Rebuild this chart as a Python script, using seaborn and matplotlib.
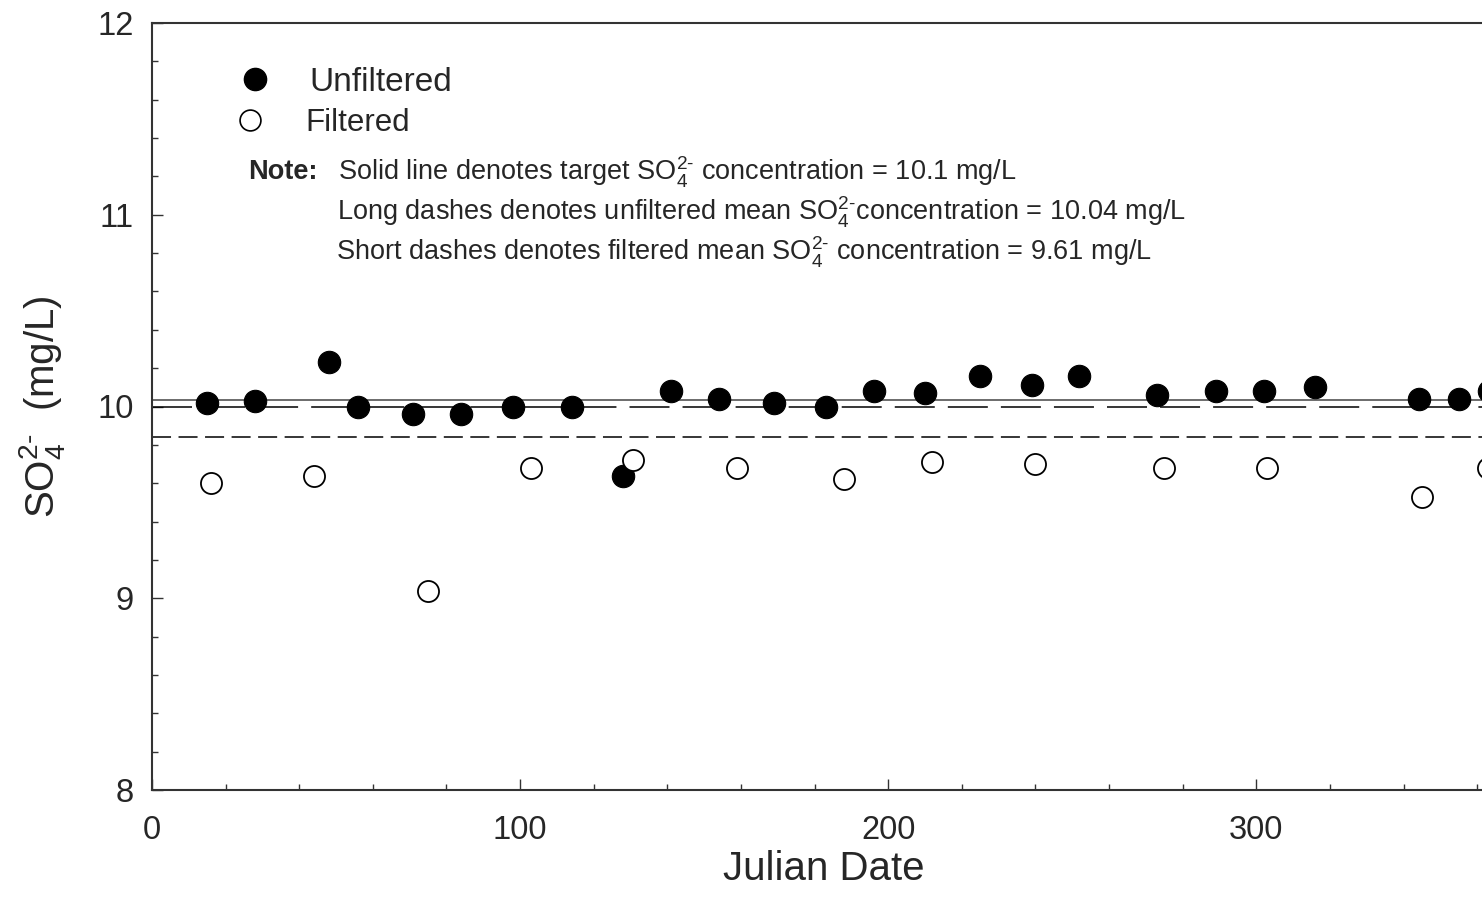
import matplotlib
matplotlib.use("Agg")
import matplotlib.pyplot as plt
import seaborn as sns
import pandas as pd
from matplotlib.ticker import MultipleLocator

# values
unfiltered_day = [15.0, 27.9, 48.1, 56.0, 71.0, 83.9, 98.0, 114.0, 128.0,
                  141.0, 154.0, 169.0, 183.0, 196.0, 210.0, 224.9, 239.0,
                  251.9, 273.0, 289.0, 302.0, 316.0, 344.1, 355.1, 363.2]
unfiltered_so4 = [10.02, 10.03, 10.23, 10.00, 9.96, 9.96, 10.00, 10.00, 9.64,
                  10.08, 10.04, 10.02, 10.00, 10.08, 10.07, 10.16, 10.11,
                  10.16, 10.06, 10.08, 10.08, 10.10, 10.04, 10.04, 10.08]

filtered_day = [15.9, 43.9, 75.1, 103.0, 130.8, 158.9, 187.9, 211.9, 239.9,
                274.9, 302.9, 345.0, 362.9]
filtered_so4 = [9.60, 9.64, 9.04, 9.68, 9.72, 9.68, 9.62, 9.71, 9.70,
                9.68, 9.68, 9.53, 9.68]

target_level = 10.035
unfiltered_mean_level = 10.0
filtered_mean_level = 9.84

note_lines = [
    r"Solid line denotes target SO$_4^{2\text{-}}$ concentration = 10.1 mg/L",
    r"Long dashes denotes unfiltered mean SO$_4^{2\text{-}}$concentration = 10.04 mg/L",
    r"Short dashes denotes filtered mean SO$_4^{2\text{-}}$ concentration = 9.61 mg/L",
]

sns.set_style("ticks")
plt.rcParams["font.family"] = ["Liberation Sans", "DejaVu Sans"]
plt.rcParams["mathtext.fontset"] = "custom"
plt.rcParams["mathtext.rm"] = "Liberation Sans"
plt.rcParams["mathtext.it"] = "Liberation Sans:italic"
plt.rcParams["mathtext.bf"] = "Liberation Sans:bold"
plt.rcParams["lines.scale_dashes"] = False

unfiltered = pd.DataFrame({"day": unfiltered_day, "so4": unfiltered_so4})
filtered = pd.DataFrame({"day": filtered_day, "so4": filtered_so4})

fig = plt.figure(figsize=(14.82, 9.11), dpi=100)
ax = fig.add_axes([152 / 1482, 1 - 790 / 911, 1330 / 1482, 767 / 911])

# reference lines
ax.axhline(target_level, color="#444444", lw=1.1, zorder=1)
ax.axhline(unfiltered_mean_level, color="black", lw=1.1,
           dashes=(28.8, 9.4), zorder=1)
ax.axhline(filtered_mean_level, color="black", lw=1.1,
           dashes=(13.7, 5.4), zorder=1)

sns.scatterplot(data=unfiltered, x="day", y="so4", ax=ax, s=260,
                color="black", edgecolor="black", linewidth=0.8, zorder=3)
sns.scatterplot(data=filtered, x="day", y="so4", ax=ax, s=230,
                color="white", edgecolor="black", linewidth=1.3, zorder=4)

ax.set_xlim(0, 361.3)
ax.set_ylim(8, 12)
ax.xaxis.set_major_locator(MultipleLocator(100))
ax.xaxis.set_minor_locator(MultipleLocator(20))
ax.yaxis.set_major_locator(MultipleLocator(1))
ax.yaxis.set_minor_locator(MultipleLocator(0.2))

ax.tick_params(which="major", direction="in", length=7.7, width=1.0,
               color="#333333", labelsize=23.5, pad=13,
               top=False, right=False)
ax.tick_params(axis="x", which="major", pad=18)
ax.tick_params(which="minor", direction="in", length=4.3, width=1.0,
               color="#333333", top=False, right=False)

for side in ["left", "bottom", "top"]:
    ax.spines[side].set_linewidth(1.5)
    ax.spines[side].set_color("#333333")
ax.spines["right"].set_visible(False)

ax.set_xlabel("Julian Date", fontsize=29, labelpad=3)
ax.xaxis.label.set_x(0.505)
ax.set_ylabel(r"SO$_4^{2\text{-}}$  (mg/L)", fontsize=29, labelpad=22)

# hand-placed legend
ax.plot([0.0774], [0.927], transform=ax.transAxes, marker="o", ms=16,
        color="black", clip_on=False)
ax.text(0.118, 0.923, "Unfiltered", transform=ax.transAxes, fontsize=24,
        va="center", ha="left")
ax.plot([0.0737], [0.8735], transform=ax.transAxes, marker="o", ms=15,
        mfc="white", mec="black", mew=1.2, clip_on=False)
ax.text(0.115, 0.8695, "Filtered", transform=ax.transAxes, fontsize=22.5,
        va="center", ha="left")

ax.text(0.0722, 0.8053, "Note:", transform=ax.transAxes, fontsize=19.5,
        fontweight="bold", va="center", ha="left")
note_y = [0.8053, 0.7532, 0.701]
note_x = [0.1398, 0.139, 0.1383]
for line, x, y in zip(note_lines, note_x, note_y):
    ax.text(x, y, line, transform=ax.transAxes, fontsize=19.5,
            va="center", ha="left")

plt.savefig("out.png", dpi=100)
plt.close()
